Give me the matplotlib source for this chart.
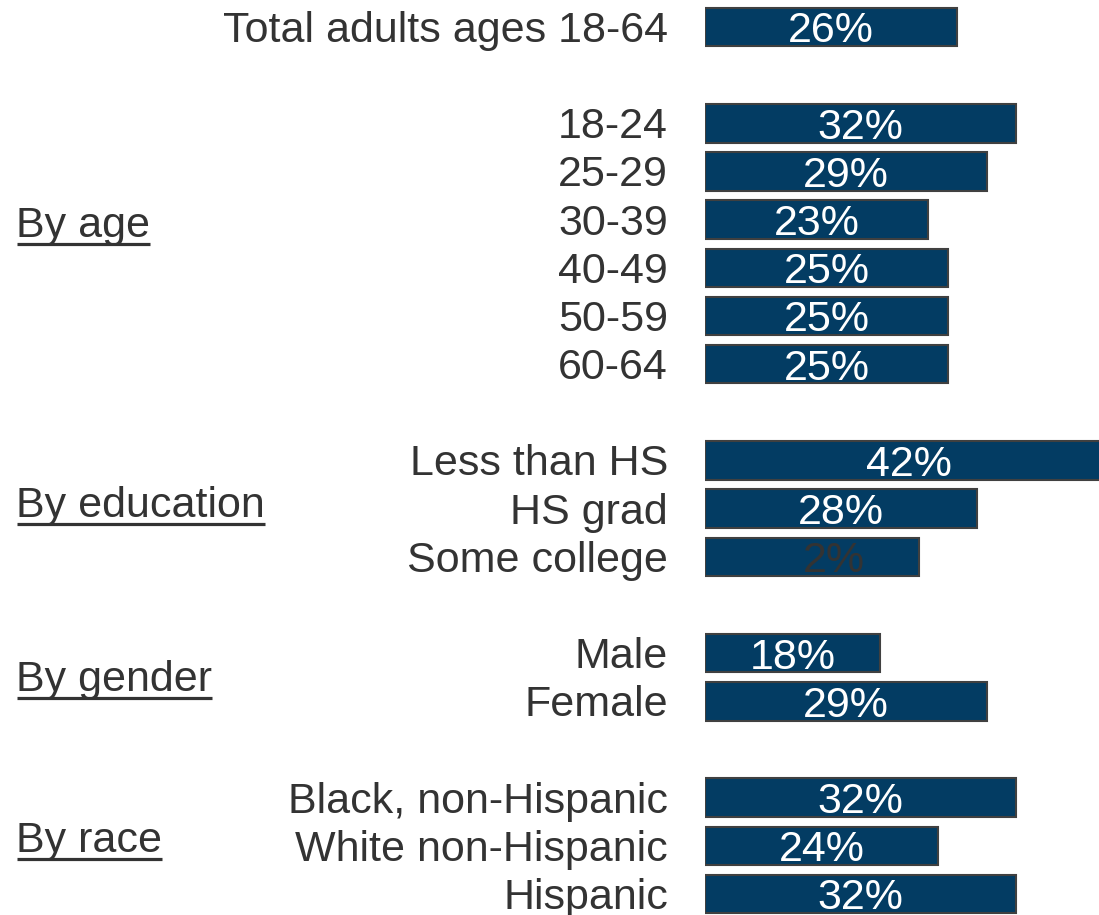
import matplotlib.pyplot as plt
from matplotlib.lines import Line2D

plt.rcParams["font.family"] = ["Liberation Sans", "DejaVu Sans"]

# row labels, values and the text printed on each bar
categories = [
    "Total adults ages 18-64",
    "18-24", "25-29", "30-39", "40-49", "50-59", "60-64",
    "Less than HS", "HS grad", "Some college",
    "Male", "Female",
    "Black, non-Hispanic", "White non-Hispanic", "Hispanic",
]
values = [26, 32, 29, 23, 25, 25, 25, 42, 28, 22, 18, 29, 32, 24, 32]
value_labels = ["26%", "32%", "29%", "23%", "25%", "25%", "25%",
                "42%", "28%", "2%", "18%", "29%", "32%", "24%", "32%"]
# row slot of each bar (gaps between groups)
rows = [0, 2, 3, 4, 5, 6, 7, 9, 10, 11, 13, 14, 16, 17, 18]

groups = ["By age", "By education", "By gender", "By race"]
group_rows = [4.36, 10.17, 13.78, 17.12]

BAR = "#033c63"
EDGE = "#404040"
TXT = "#333333"
FS = 31

fig = plt.figure(figsize=(10.99, 9.15), dpi=100)
ax = fig.add_axes([705 / 1099, 0, 394 / 1099, 1])
ax.set_xlim(0, 394 / 9.71)
ax.set_ylim(18.436, -0.56)
ax.axis("off")

ax.barh(rows, values, height=0.8, color=BAR, edgecolor=EDGE, linewidth=1.5)

for r, v, lab, cat in zip(rows, values, value_labels, categories):
    ax.text(-37 / 9.71, r + 0.31, cat, ha="right", va="baseline",
            fontsize=FS, color=TXT, clip_on=False)
    if lab == f"{v}%":
        ax.text(v / 2, r + 0.32, lab, ha="center", va="baseline",
                fontsize=FS, color="white")
    else:
        # mislabelled bar drawn in dark text, off-centre
        ax.text(v / 2 + 2.3, r + 0.32, lab, ha="center", va="baseline",
                fontsize=FS, color=TXT)

# group headings, underlined
group_texts = []
for g, gr in zip(groups, group_rows):
    t = ax.text(0, gr, g, ha="left", va="baseline", fontsize=FS, color=TXT,
                transform=ax.get_yaxis_transform(), clip_on=False)
    t.set_x(-689 / 394)
    group_texts.append(t)

fig.canvas.draw()
renderer = fig.canvas.get_renderer()
W, H = fig.bbox.width, fig.bbox.height
for t, gr in zip(group_texts, group_rows):
    bb = t.get_window_extent(renderer)
    base_px = ax.transData.transform((0, gr))[1]
    y = (base_px - 7) / H
    fig.add_artist(Line2D([bb.x0 / W + 1 / W, bb.x1 / W], [y, y],
                          color=TXT, linewidth=2.3, solid_capstyle="butt"))

fig.savefig("out.png", dpi=100)
